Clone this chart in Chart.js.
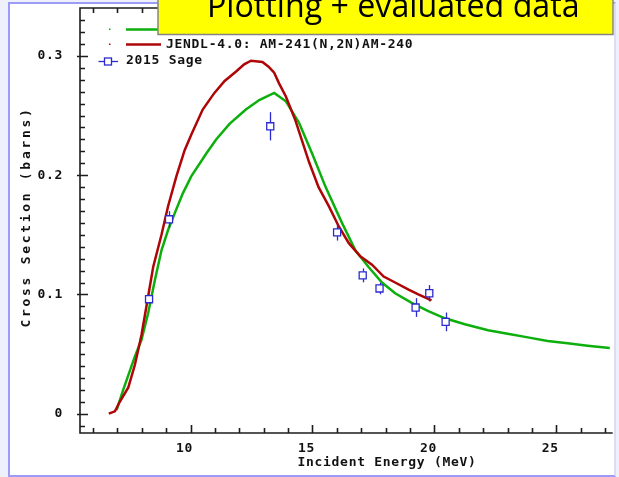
<!DOCTYPE html>
<html lang="en">
<head>
<meta charset="UTF-8">
<title>Am-241(n,2n)Am-240 cross section</title>
<script src="https://cdn.jsdelivr.net/npm/chart.js"></script>
<style>
  html, body { margin: 0; padding: 0; background: #eef0fb; }
  body { width: 619px; height: 477px; position: relative; overflow: hidden; }
  .frame { position: absolute; left: 8px; top: 2px; width: 604px; height: 471px;
           background: #fff; border: 2px solid #9c9cf6; border-right-color: #dcdcf2; }
  #chart { position: absolute; left: 0; top: 0; }
</style>
</head>
<body>
<div class="frame"></div>
<canvas id="chart" width="619" height="477"></canvas>
<script>
// evaluated curve (green, label hidden under the title box)
const energyGreen = [6.97, 7.24, 7.72, 7.99, 8.26, 8.54, 8.81, 9.08, 9.35, 9.69, 10.03, 10.64, 11.05, 11.6,
  12.27, 12.82, 13.43, 13.91, 14.45, 14.99, 15.54, 16.21, 16.76, 17.3, 17.85, 18.39, 19.07, 19.75,
  20.43, 21.25, 22.2, 23.0, 23.83, 24.64, 25.46, 26.28, 27.19];
const xsGreen = [0.003, 0.020, 0.048, 0.062, 0.084, 0.112, 0.137, 0.154, 0.168, 0.185, 0.199, 0.218, 0.230, 0.243,
  0.255, 0.263, 0.269, 0.262, 0.244, 0.218, 0.190, 0.160, 0.137, 0.123, 0.110, 0.101, 0.093, 0.086,
  0.080, 0.075, 0.070, 0.067, 0.064, 0.061, 0.059, 0.057, 0.055];

// JENDL-4.0
const energyJendl = [6.65, 6.90, 7.10, 7.45, 7.72, 7.99, 8.26, 8.47, 8.81, 9.08, 9.42, 9.76, 10.03, 10.5,
  10.98, 11.4, 11.87, 12.2, 12.48, 12.95, 13.2, 13.43, 13.63, 13.91, 14.3, 14.86, 15.25, 15.67,
  16.08, 16.49, 16.96, 17.44, 17.92, 18.39, 18.94, 19.34, 19.88];
const xsJendl = [0, 0.002, 0.010, 0.022, 0.041, 0.066, 0.098, 0.123, 0.150, 0.174, 0.199, 0.221, 0.234, 0.255,
  0.269, 0.279, 0.287, 0.293, 0.296, 0.295, 0.291, 0.286, 0.277, 0.266, 0.246, 0.211, 0.190, 0.174,
  0.157, 0.143, 0.132, 0.125, 0.115, 0.110, 0.104, 0.100, 0.095];

// 2015 Sage measurement
const energySage = [8.30, 9.12, 13.27, 16.01, 17.06, 17.75, 19.23, 19.79, 20.46];
const xsSage = [0.096, 0.163, 0.241, 0.152, 0.116, 0.105, 0.089, 0.101, 0.077];
const errSage = [0.003, 0.006, 0.011, 0.006, 0.005, 0.004, 0.007, 0.006, 0.007];

const jendlLabel = 'JENDL-4.0: AM-241(N,2N)AM-240';
const sageLabel = '2015 Sage';
const xTitle = 'Incident Energy (MeV)';
const yTitle = 'Cross Section (barns)';
const boxTitle = 'Plotting + evaluated data';

const GREEN = '#0caf0c';
const RED = '#ae0606';
const BLUE = '#2a2ad0';
const MONO = "bold 13px 'DejaVu Sans Mono'";
const SPACING = '0.7px';

const pts = (xs, ys) => xs.map((x, i) => ({ x: x, y: ys[i] }));

const decor = {
  id: 'decor',
  beforeDraw(chart) {
    chart.ctx.letterSpacing = SPACING;
  },
  beforeDatasetDraw(chart, args) {
    if (args.meta.label !== sageLabel) return;
    const ctx = chart.ctx, sx = chart.scales.x, sy = chart.scales.y;
    ctx.save();
    ctx.strokeStyle = BLUE;
    ctx.lineWidth = 1.3;
    energySage.forEach((e, i) => {
      const px = Math.round(sx.getPixelForValue(e)) + 0.5;
      ctx.beginPath();
      ctx.moveTo(px, sy.getPixelForValue(xsSage[i] - errSage[i]) + 1);
      ctx.lineTo(px, sy.getPixelForValue(xsSage[i] + errSage[i]) - 1);
      ctx.stroke();
    });
    ctx.restore();
  },
  afterDraw(chart) {
    const ctx = chart.ctx, sx = chart.scales.x, sy = chart.scales.y;
    const { left, right, top, bottom } = chart.chartArea;
    ctx.save();
    // axes frame and tick marks
    ctx.strokeStyle = '#1c1c1c';
    ctx.lineWidth = 1.6;
    ctx.beginPath();
    ctx.moveTo(right, top); ctx.lineTo(left, top); ctx.lineTo(left, bottom); ctx.lineTo(right, bottom);
    for (let e = 6; e <= 27; e++) {
      const px = Math.round(sx.getPixelForValue(e)) + 0.5;
      const len = e % 5 === 0 ? 8 : 5;
      ctx.moveTo(px, bottom); ctx.lineTo(px, bottom - len);
      ctx.moveTo(px, top); ctx.lineTo(px, top + len);
    }
    for (let k = -1; k <= 33; k++) {
      const py = Math.round(sy.getPixelForValue(k / 100)) + 0.5;
      const major = k % 10 === 0;
      ctx.moveTo(major ? left - 3 : left, py); ctx.lineTo(left + (major ? 8 : 5), py);
    }
    ctx.stroke();

    // axis titles
    ctx.fillStyle = '#111';
    ctx.font = MONO;
    ctx.textBaseline = 'middle';
    ctx.textAlign = 'center';
    ctx.letterSpacing = SPACING;
    ctx.fillText(xTitle, 387, 463);
    ctx.save();
    ctx.translate(27, 217);
    ctx.rotate(-Math.PI / 2);
    ctx.letterSpacing = '2.7px';
    ctx.fillText(yTitle, 0, 0);
    ctx.restore();

    // legend
    ctx.letterSpacing = SPACING;
    ctx.lineWidth = 2.5;
    ctx.fillStyle = GREEN; ctx.fillRect(109, 28.5, 1.5, 1.5);
    ctx.strokeStyle = GREEN;
    ctx.beginPath(); ctx.moveTo(126, 29.5); ctx.lineTo(160, 29.5); ctx.stroke();
    ctx.fillStyle = RED; ctx.fillRect(109, 43.5, 1.5, 1.5);
    ctx.strokeStyle = RED;
    ctx.beginPath(); ctx.moveTo(126, 44.5); ctx.lineTo(161, 44.5); ctx.stroke();
    ctx.strokeStyle = BLUE; ctx.lineWidth = 1.3;
    ctx.beginPath(); ctx.moveTo(98.5, 61.5); ctx.lineTo(118, 61.5); ctx.stroke();
    ctx.fillStyle = '#fff';
    ctx.fillRect(104.5, 58, 7, 7); ctx.strokeRect(104.5, 58, 7, 7);
    ctx.fillStyle = '#111';
    ctx.textAlign = 'left';
    ctx.fillText(jendlLabel, 166, 45);
    ctx.fillText(sageLabel, 126, 61);

    // yellow title box
    ctx.letterSpacing = '0px';
    ctx.fillStyle = '#ffff00';
    ctx.strokeStyle = '#858585';
    ctx.lineWidth = 1.5;
    ctx.fillRect(158, -4, 455, 38.5);
    ctx.strokeRect(158, -4, 455, 38.5);
    ctx.font = "26px 'Open Sans'";
    const w = ctx.measureText(boxTitle).width;
    const size = 26 * 373 / w;
    ctx.font = size.toFixed(1) + "px 'Open Sans'";
    ctx.fillStyle = '#000';
    ctx.textBaseline = 'alphabetic';
    ctx.fillText(boxTitle, 207, 17);
    ctx.restore();
  }
};

const tickFont = { family: 'DejaVu Sans Mono', size: 13, weight: 'bold' };

new Chart(document.getElementById('chart'), {
  type: 'line',
  data: {
    datasets: [
      { label: sageLabel, data: pts(energySage, xsSage), showLine: false, order: 0,
        pointStyle: 'rect', pointRadius: 5, pointBackgroundColor: '#fff',
        pointBorderColor: BLUE, pointBorderWidth: 1.3 },
      { label: jendlLabel, data: pts(energyJendl, xsJendl), order: 1,
        borderColor: RED, borderWidth: 2.5, pointRadius: 0, tension: 0 },
      { label: 'evaluation', data: pts(energyGreen, xsGreen), order: 2,
        borderColor: GREEN, borderWidth: 2.5, pointRadius: 0, tension: 0 }
    ]
  },
  options: {
    responsive: false,
    animation: false,
    devicePixelRatio: 1,
    layout: { padding: { left: 8, right: 4, top: 8, bottom: 0 } },
    plugins: { legend: { display: false }, tooltip: { enabled: false } },
    scales: {
      x: {
        type: 'linear', min: 5.469, max: 27.31,
        grid: { display: false }, border: { display: false },
        ticks: { stepSize: 5, includeBounds: false, padding: 0, labelOffset: -6, color: '#111', font: tickFont },
        afterFit(scale) { scale.height = 44; scale.paddingLeft = 0; scale.paddingRight = 0; }
      },
      y: {
        type: 'linear', min: -0.0162, max: 0.3402,
        grid: { display: false }, border: { display: false },
        ticks: { stepSize: 0.1, includeBounds: false, padding: 9, color: '#111', font: tickFont,
                 callback: v => (Math.abs(v) < 1e-9 ? '0' : v.toFixed(1)) },
        afterFit(scale) { scale.width = 72; scale.paddingTop = 0; scale.paddingBottom = 0; }
      }
    }
  },
  plugins: [decor]
});
</script>
</body>
</html>
